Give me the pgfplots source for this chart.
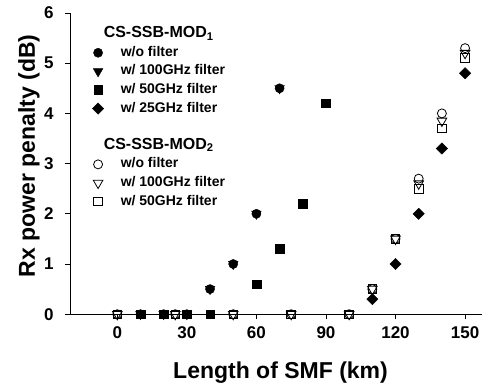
\documentclass[border=0pt]{standalone}
\usepackage{fontspec}
\setmainfont{Liberation Sans}
\usepackage{pgfplots}
\pgfplotsset{compat=1.18}
\begin{document}
\begin{tikzpicture}
\begin{axis}[
  scale only axis, width=412pt, height=301.2pt,
  xmin=-20.4, xmax=157.3, ymin=0, ymax=6,
  axis lines=left, axis line style={-, line width=0.8pt},
  clip=false,
  xtick={0,30,60,90,120,150}, ytick={0,1,2,3,4,5,6},
  tick align=outside, major tick length=5pt,
  tick style={black, line width=0.8pt},
  /pgf/number format/assume math mode=true,
  ticklabel style={font=\fontsize{17}{17}\selectfont\bfseries},
  xticklabel style={yshift=-4pt},
  yticklabel style={xshift=-8pt},
  xlabel={Length of SMF (km)}, ylabel={Rx power penalty (dB)},
  label style={font=\fontsize{23}{23}\selectfont\bfseries},
  xlabel style={at={(axis description cs:0.511,0)}, anchor=base, yshift=-64pt},
  ylabel style={at={(axis description cs:0,0.526)}, anchor=center, yshift=41pt},
  legend cell align=left,
  legend style={at={(axis description cs:0.047,0.952)}, anchor=north west,
    draw=none, fill=none, inner sep=0pt, row sep=5.6pt,
    font=\fontsize{14}{14}\selectfont\bfseries,
    nodes={inner sep=0pt, text height=10pt, text depth=3pt},
    /tikz/every odd column/.append style={column sep=17pt}},
]
% CS-SSB-MOD1, w/o filter
\addplot[forget plot, only marks, mark=*, mark size=4.6pt, black] coordinates {
 (10,0) (20,0) (30,0) (40,0.5) (50,1) (60,2) (70,4.5)};
% CS-SSB-MOD1, 100 GHz filter
\addplot[forget plot, only marks, mark=triangle*, mark size=5.6pt, mark options={rotate=180}, black] coordinates {
 (10,0) (20,0) (30,0) (40,0.5) (50,1) (60,2) (70,4.5)};
% CS-SSB-MOD1, 50 GHz filter
\addplot[forget plot, only marks, mark=square*, mark size=4.3pt, black] coordinates {
 (10,0) (20,0) (30,0) (40,0) (60,0.6) (70,1.3) (80,2.2) (90,4.2)};
% CS-SSB-MOD1, 25 GHz filter
\addplot[forget plot, only marks, mark=square*, mark size=4pt, mark options={rotate=45}, black] coordinates {
 (110,0.3) (120,1) (130,2) (140,3.3) (150,4.8)};
% CS-SSB-MOD2, w/o filter
\addplot[forget plot, only marks, mark=o, mark size=4.5pt, mark options={fill=white, line width=0.8pt}, black] coordinates {
 (0,0) (25,0) (50,0) (75,0) (100,0) (110,0.5) (120,1.5) (130,2.7) (140,4.0) (150,5.3)};
% CS-SSB-MOD2, 100 GHz filter
\addplot[forget plot, only marks, mark=triangle, mark size=5.6pt, mark options={rotate=180, fill=white, line width=0.8pt}, black] coordinates {
 (0,0) (25,0) (50,0) (75,0) (100,0) (110,0.5) (120,1.5) (130,2.6) (140,3.85) (150,5.2)};
% CS-SSB-MOD2, 50 GHz filter
\addplot[forget plot, only marks, mark=square, mark size=4.3pt, mark options={fill=white, line width=0.8pt}, black] coordinates {
 (0,0) (25,0) (50,0) (75,0) (100,0) (110,0.5) (120,1.5) (130,2.5) (140,3.7) (150,5.1)};

\addlegendimage{empty legend}
\addlegendentry{\hspace*{-17pt}\fontsize{16}{16}\selectfont CS-SSB-MOD$_{\mathbf{1}}$}
\addlegendimage{only marks, mark=*, mark size=4.6pt, black}
\addlegendentry{w/o filter}
\addlegendimage{only marks, mark=triangle*, mark size=5.6pt, mark options={rotate=180}, black}
\addlegendentry{w/ 100GHz filter}
\addlegendimage{only marks, mark=square*, mark size=4.3pt, black}
\addlegendentry{w/ 50GHz filter}
\addlegendimage{only marks, mark=square*, mark size=4pt, mark options={rotate=45}, black}
\addlegendentry{w/ 25GHz filter}
\addlegendimage{empty legend}
\addlegendentry{}
\addlegendimage{empty legend}
\addlegendentry{\hspace*{-17pt}\fontsize{16}{16}\selectfont CS-SSB-MOD$_{\mathbf{2}}$}
\addlegendimage{only marks, mark=o, mark size=4.5pt, mark options={fill=white, line width=0.8pt}, black}
\addlegendentry{w/o filter}
\addlegendimage{only marks, mark=triangle, mark size=5.6pt, mark options={rotate=180, fill=white, line width=0.8pt}, black}
\addlegendentry{w/ 100GHz filter}
\addlegendimage{only marks, mark=square, mark size=4.3pt, mark options={fill=white, line width=0.8pt}, black}
\addlegendentry{w/ 50GHz filter}
\end{axis}
\pgfresetboundingbox
\path[use as bounding box] (-70pt,-74.7pt) rectangle (412pt,314.2pt);
\end{tikzpicture}
\end{document}
